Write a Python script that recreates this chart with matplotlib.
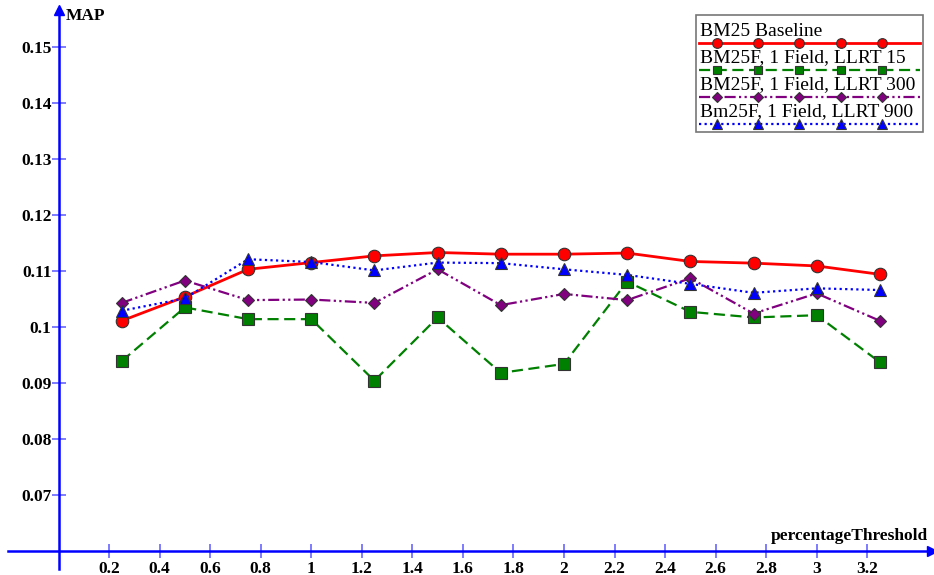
import numpy as np
import matplotlib
matplotlib.use("Agg")
import matplotlib.pyplot as plt
from matplotlib.patches import Rectangle

# data
thresholds = [0.25, 0.5, 0.75, 1.0, 1.25, 1.5, 1.75, 2.0, 2.25, 2.5, 2.75, 3.0, 3.25]
bm25_baseline = [0.1011, 0.1054, 0.1103, 0.1115, 0.1127, 0.1133, 0.1130, 0.1130,
                 0.1132, 0.1117, 0.1114, 0.1109, 0.1094]
llrt_15 = [0.0939, 0.1035, 0.1014, 0.1014, 0.0904, 0.1017, 0.0918, 0.0934,
           0.1081, 0.1027, 0.1017, 0.1021, 0.0937]
llrt_300 = [0.1043, 0.1083, 0.1048, 0.1049, 0.1043, 0.1103, 0.1039, 0.1059,
            0.1048, 0.1087, 0.1024, 0.1060, 0.1011]
llrt_900 = [0.1029, 0.1051, 0.1121, 0.1116, 0.1101, 0.1115, 0.1114, 0.1103,
            0.1093, 0.1077, 0.1061, 0.1069, 0.1066]
labels = ["BM25 Baseline", "BM25F, 1 Field, LLRT 15",
          "BM25F, 1 Field, LLRT 300", "Bm25F, 1 Field, LLRT 900"]
x_ticks = [0.2, 0.4, 0.6, 0.8, 1, 1.2, 1.4, 1.6, 1.8, 2, 2.2, 2.4, 2.6, 2.8, 3, 3.2]
y_ticks = [0.07, 0.08, 0.09, 0.1, 0.11, 0.12, 0.13, 0.14, 0.15]

styles = [
    dict(color="#ff0000", ls="-", marker="o", ms=9, lw=2),
    dict(color="#008000", ls=(0, (5, 2.5)), marker="s", ms=8, lw=1.6),
    dict(color="#800080", ls=(0, (5, 1.5, 1, 1.5, 1, 1.5)), marker="D", ms=6.5, lw=1.6),
    dict(color="#0000ff", ls=(0, (1, 1.5)), marker="^", ms=9, lw=1.6),
]
legend_ms = [7, 6, 5, 7]
series = [bm25_baseline, llrt_15, llrt_300, llrt_900]

W, H = 934, 575
fig = plt.figure(figsize=(W / 100, H / 100), dpi=100)
ax = fig.add_axes([0, 0, 1, 1])
ax.set_xlim(-0.2315, 3.464)
ax.set_ylim(0.05571, 0.15839)

serif = ["Liberation Serif", "DejaVu Serif"]

for vals, st in zip(series, styles):
    ax.plot(thresholds, vals, color=st["color"], linestyle=st["ls"], lw=st["lw"],
            marker=st["marker"], ms=st["ms"], markerfacecolor=st["color"],
            markeredgecolor="#333333", markeredgewidth=0.8, zorder=3)

# axes drawn through the origin (0, 0.06)
for side in ["top", "right"]:
    ax.spines[side].set_visible(False)
ax.spines["left"].set_position(("data", 0))
ax.spines["bottom"].set_position(("data", 0.06))
ax.spines["left"].set_bounds(0.0567, 0.157)
ax.spines["bottom"].set_bounds(-0.2, 3.45)
for side in ["left", "bottom"]:
    ax.spines[side].set_color("#0000ff")
    ax.spines[side].set_linewidth(1.8)
ax.plot(3.455, 0.06, ">", color="#0000ff", ms=7, clip_on=False, zorder=4)
ax.plot(0, 0.1566, "^", color="#0000ff", ms=7, clip_on=False, zorder=4)

ax.set_xticks(x_ticks)
ax.set_xticklabels([f"{t:g}" for t in x_ticks])
ax.set_yticks(y_ticks)
ax.set_yticklabels([f"{t:g}" for t in y_ticks])
ax.tick_params(axis="both", direction="inout", length=10, width=1.2, color="#6666ff",
               labelsize=12.5)
ax.tick_params(axis="x", pad=2)
ax.tick_params(axis="y", pad=0)
for lab in ax.get_xticklabels() + ax.get_yticklabels():
    lab.set_fontfamily(serif)
    lab.set_fontweight("bold")

ax.text(0.03, 0.1555, "MAP", fontsize=12.5, fontweight="bold", family=serif,
        ha="left", va="center")
ax.text(3.44, 0.0626, "percentageThreshold", fontsize=12.5, fontweight="bold",
        family=serif, ha="right", va="center")


# legend drawn by hand: label above its own line
def px(x, y):
    return x / W, 1 - y / H


x0, y0 = px(696, 15)
x1, y1 = px(923, 132)
fig.patches.append(Rectangle((x0, y1), x1 - x0, y0 - y1, transform=fig.transFigure,
                             facecolor="white", edgecolor="#777777", lw=1.2, zorder=5))
text_y = [31, 58, 85, 112]
line_y = [42.7, 70, 97.3, 124.3]
mark_x = [716.7, 757.7, 799.3, 840.7, 881.7]
for lab, st, lms, ty, ly in zip(labels, styles, legend_ms, text_y, line_y):
    tx, tyf = px(700, ty)
    fig.text(tx, tyf, lab, fontsize=14, family=serif, ha="left", va="center", zorder=6)
    lx0, lyf = px(699, ly)
    lx1, _ = px(920, ly)
    fig.add_artist(plt.Line2D([lx0, lx1], [lyf, lyf], transform=fig.transFigure,
                              color=st["color"], linestyle=st["ls"], lw=st["lw"], zorder=6))
    mxs = [px(m, ly)[0] for m in mark_x]
    fig.add_artist(plt.Line2D(mxs, [lyf] * len(mxs), transform=fig.transFigure, lw=0,
                              marker=st["marker"], ms=lms, markerfacecolor=st["color"],
                              markeredgecolor="#333333", markeredgewidth=0.8, zorder=7))

fig.savefig("out.png", dpi=100)
